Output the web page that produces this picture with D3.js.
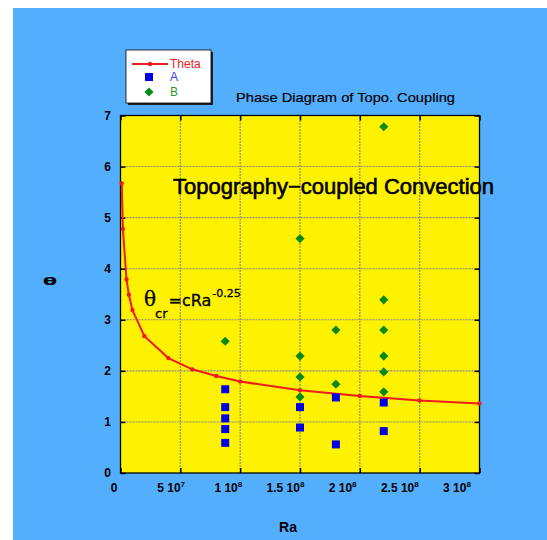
<!DOCTYPE html>
<html lang="en">
<head>
    <meta charset="UTF-8">
    <title>Phase Diagram of Topo. Coupling</title>
    <style>
        body { margin: 0; background: #fff; }
        svg { display: block; font-family: 'Liberation Sans', Arial, sans-serif; }
    </style>
</head>
<body>
<div id="chart"></div>

<script src="https://d3js.org/d3.v7.min.js"></script>
<script>
    // critical curve theta_cr = c Ra^-0.25
    const raTheta = [1e6, 2e6, 5e6, 7e6, 1e7, 2e7, 4e7, 6e7, 8e7, 1e8, 1.5e8, 2e8, 2.5e8, 3e8];
    const thetaVals = [5.67, 4.78, 3.79, 3.49, 3.19, 2.68, 2.25, 2.03, 1.90, 1.79, 1.62, 1.51, 1.42, 1.36];

    // series A (blue squares)
    const raA = [8.75e7, 8.75e7, 8.75e7, 8.75e7, 8.75e7, 1.5e8, 1.5e8, 1.8e8, 1.8e8, 2.2e8, 2.2e8];
    const thetaA = [1.64, 1.29, 1.07, 0.86, 0.59, 1.29, 0.89, 1.48, 0.56, 1.38, 0.82];

    // series B (green diamonds)
    const raB = [8.75e7, 1.5e8, 1.5e8, 1.5e8, 1.5e8, 1.8e8, 1.8e8, 2.2e8, 2.2e8, 2.2e8, 2.2e8, 2.2e8, 2.2e8];
    const thetaB = [2.58, 4.59, 2.29, 1.88, 1.49, 2.80, 1.74, 6.78, 3.39, 2.80, 2.29, 1.98, 1.59];

    // axis ticks
    const xTicks = [0, 5e7, 1e8, 1.5e8, 2e8, 2.5e8, 3e8];
    const xTickMant = ["0", "5 10", "1 10", "1.5 10", "2 10", "2.5 10", "3 10"];
    const xTickExp = ["", "7", "8", "8", "8", "8", "8"];
    const yTicks = [0, 1, 2, 3, 4, 5, 6, 7];

    const width = 547, height = 540;
    const svg = d3.select("#chart").append("svg")
        .attr("width", width)
        .attr("height", height);

    // blue backdrop
    svg.append("rect").attr("x", 13).attr("y", 8)
        .attr("width", width - 13).attr("height", height - 8)
        .attr("fill", "#54aefe");

    const x = d3.scaleLinear().domain([0, 3e8]).range([120.5, 479.5]);
    const y = d3.scaleLinear().domain([0, 7]).range([473, 115.5]);
    // the tick labels sit a little compressed compared with the ticks
    const xLab = d3.scaleLinear().domain([0, 3e8]).range([114, 457]);

    const [x0, x1] = x.range(), [y0, y1] = y.range();

    svg.append("rect").attr("x", x0).attr("y", y1)
        .attr("width", x1 - x0).attr("height", y0 - y1)
        .attr("fill", "#fff200");

    // grid
    const grid = svg.append("g").attr("stroke", "#888").attr("stroke-width", 1.1).attr("stroke-dasharray", "2,1");
    grid.selectAll(".gx").data(xTicks.slice(1, -1)).join("line")
        .attr("x1", d => x(d)).attr("x2", d => x(d)).attr("y1", y0).attr("y2", y1);
    grid.selectAll(".gy").data(yTicks.slice(1, -1)).join("line")
        .attr("x1", x0).attr("x2", x1).attr("y1", d => y(d)).attr("y2", d => y(d));

    // inward ticks on all four sides
    const tk = 5;
    svg.append("g").attr("transform", `translate(0,${y0})`)
        .call(d3.axisBottom(x).tickValues(xTicks).tickSizeInner(-tk).tickSizeOuter(0).tickFormat(""));
    svg.append("g").attr("transform", `translate(0,${y1})`)
        .call(d3.axisTop(x).tickValues(xTicks).tickSizeInner(-tk).tickSizeOuter(0).tickFormat(""));
    svg.append("g").attr("transform", `translate(${x0},0)`)
        .call(d3.axisLeft(y).tickValues(yTicks).tickSizeInner(-tk).tickSizeOuter(0).tickFormat(""));
    svg.append("g").attr("transform", `translate(${x1},0)`)
        .call(d3.axisRight(y).tickValues(yTicks).tickSizeInner(-tk).tickSizeOuter(0).tickFormat(""));
    svg.selectAll(".domain").remove();
    svg.selectAll(".tick line").attr("stroke", "#000").attr("stroke-width", 1.5);

    svg.append("rect").attr("x", x0).attr("y", y1)
        .attr("width", x1 - x0).attr("height", y0 - y1)
        .attr("fill", "none").attr("stroke", "#000").attr("stroke-width", 1.3);

    // tick labels
    const xl = svg.append("g").attr("font-size", 12).attr("font-weight", "bold").attr("text-anchor", "middle");
    xTicks.forEach((d, i) => {
        const t = xl.append("text").attr("x", xLab(d)).attr("y", 492);
        t.append("tspan").text(xTickMant[i]);
        if (xTickExp[i]) t.append("tspan").attr("dy", -5).attr("font-size", 8).text(xTickExp[i]);
    });
    svg.append("g").attr("font-size", 12).attr("font-weight", "bold").attr("text-anchor", "end")
        .selectAll("text").data(yTicks).join("text")
        .attr("x", 111).attr("y", d => y(d)).attr("dy", "0.35em").text(d => d);

    // axis titles
    svg.append("text").attr("x", 288).attr("y", 531.5).attr("text-anchor", "middle")
        .attr("font-size", 14).attr("font-weight", "bold").text("Ra");
    svg.append("text").attr("transform", "translate(50,281) scale(1.5,0.8)")
        .attr("text-anchor", "middle").attr("dy", "0.35em")
        .attr("font-size", 14).attr("font-weight", "bold").attr("font-family", "DejaVu Sans").text("θ");

    svg.append("text").attr("x", 236).attr("y", 102).attr("font-size", 13)
        .attr("stroke", "#000").attr("stroke-width", 0.2)
        .attr("textLength", 219).attr("lengthAdjust", "spacingAndGlyphs")
        .text("Phase Diagram of Topo. Coupling");

    // curve
    const curve = raTheta.map((r, i) => [r, thetaVals[i]]);
    const red = "#ee1c1c";
    svg.append("path").datum(curve)
        .attr("fill", "none").attr("stroke", red).attr("stroke-width", 2)
        .attr("d", d3.line().x(d => x(d[0])).y(d => y(d[1])));
    svg.append("g").selectAll("circle").data(curve).join("circle")
        .attr("cx", d => x(d[0])).attr("cy", d => y(d[1])).attr("r", 2.2).attr("fill", red);

    // A and B
    const sq = d3.symbol().type(d3.symbolSquare).size(64);
    const dia = d3.symbol().type(d3.symbolSquare).size(42);
    svg.append("g").selectAll("path").data(raB.map((r, i) => [r, thetaB[i]])).join("path")
        .attr("d", dia).attr("fill", "#0a8a14")
        .attr("transform", d => `translate(${x(d[0])},${y(d[1])}) rotate(45)`);
    svg.append("g").selectAll("path").data(raA.map((r, i) => [r, thetaA[i]])).join("path")
        .attr("d", sq).attr("fill", "#0000e6")
        .attr("transform", d => `translate(${x(d[0])},${y(d[1])})`);

    // annotations
    svg.append("text").attr("x", 173).attr("y", 193.5).attr("font-size", 22)
        .attr("stroke", "#000").attr("stroke-width", 0.6)
        .attr("textLength", 321).attr("lengthAdjust", "spacingAndGlyphs")
        .text("Topography\u2212coupled Convection");

    const f = svg.append("text").attr("x", 144).attr("y", 306)
        .attr("font-family", "DejaVu Sans").attr("font-size", 16)
        .attr("stroke", "#000").attr("stroke-width", 0.3);
    f.append("tspan").attr("font-family", "DejaVu Serif").attr("font-size", 20).text("θ");
    f.append("tspan").attr("dy", 12).attr("dx", -1).attr("font-size", 13).text("cr");
    f.append("tspan").attr("dy", -12).attr("dx", 1).text("=cRa");
    f.append("tspan").attr("dy", -9).attr("dx", 1).attr("font-size", 11).text("-0.25");

    // legend
    const lg = svg.append("g").attr("transform", "translate(126,50)");
    lg.append("rect").attr("x", 2).attr("y", 2).attr("width", 85).attr("height", 53).attr("fill", "#222");
    lg.append("rect").attr("width", 85).attr("height", 53).attr("fill", "#fff").attr("stroke", "#000").attr("stroke-width", 0.8);
    lg.append("line").attr("x1", 6).attr("x2", 42).attr("y1", 14).attr("y2", 14)
        .attr("stroke", red).attr("stroke-width", 2);
    lg.append("circle").attr("cx", 24).attr("cy", 14).attr("r", 2.2).attr("fill", red);
    lg.append("path").attr("d", sq).attr("fill", "#0000e6").attr("transform", "translate(23,27)");
    lg.append("path").attr("d", dia).attr("fill", "#0a8a14").attr("transform", "translate(23,42) rotate(45)");
    const legendText = [["Theta", red, 14], ["A", "#3344ee", 27], ["B", "#2f9a2f", 42]];
    lg.selectAll("text.lt").data(legendText).join("text")
        .attr("x", 44).attr("y", d => d[2]).attr("dy", "0.35em")
        .attr("font-size", 12).attr("fill", d => d[1]).text(d => d[0]);
</script>
</body>
</html>
